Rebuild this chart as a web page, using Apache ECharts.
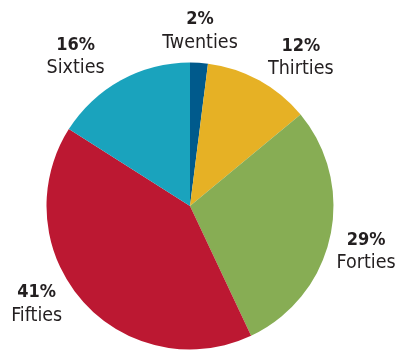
<!DOCTYPE html>
<html>
<head>
<meta charset="utf-8">
<style>
  html, body { margin: 0; padding: 0; background: #ffffff; }
  #chart { width: 398px; height: 350px; }
</style>
<script src="https://cdn.jsdelivr.net/npm/echarts@6/dist/echarts.min.js"></script>
</head>
<body>
<div id="chart"></div>
<script>
// Age groups and their share (percent)
const categories = ['Twenties', 'Thirties', 'Forties', 'Fifties', 'Sixties'];
const shares = [2, 12, 29, 41, 16];
const colors = ['#005a8c', '#e6b125', '#87ad54', '#bc1832', '#1aa3bd'];

// Label placement relative to each slice's middle angle
const labelAngleShift = [-0.3, 8, 2, 8.8, -8.7];   // degrees
const labelDistance = [175, 185, 182, 182, 188];    // px from pie centre

const FONT = '"DejaVu Sans Condensed", "Liberation Sans Narrow", sans-serif';
const CX = 190, CY = 206, R = 143.5;

const total = shares.reduce((a, b) => a + b, 0);
const midAngles = [];
let acc = 0;
shares.forEach(v => {
  midAngles.push((acc + v / 2) / total * 360);
  acc += v;
});

const chart = echarts.init(document.getElementById('chart'), null, { renderer: 'canvas' });
chart.setOption({
  animation: false,
  backgroundColor: '#ffffff',
  series: [{
    type: 'pie',
    center: [CX, CY],
    radius: [0, R],
    startAngle: 90,
    clockwise: true,
    avoidLabelOverlap: false,
    emphasis: { disabled: true },
    itemStyle: { borderWidth: 0 },
    label: {
      show: true,
      position: 'outside',
      formatter: p => '{p|' + p.value + '%}\n{n|' + p.name + '}',
      rich: {
        p: { fontFamily: FONT, fontWeight: 'bold', fontSize: 18, lineHeight: 23, color: '#231f20', align: 'center' },
        n: { fontFamily: FONT, fontSize: 19.5, lineHeight: 23, color: '#231f20', align: 'center' }
      }
    },
    labelLine: { show: false },
    labelLayout: params => {
      const i = params.dataIndex;
      const a = (midAngles[i] + labelAngleShift[i]) * Math.PI / 180;
      const d = labelDistance[i];
      return {
        x: CX + d * Math.sin(a),
        y: CY - d * Math.cos(a),
        align: 'center',
        verticalAlign: 'middle'
      };
    },
    data: categories.map((name, i) => ({
      name: name,
      value: shares[i],
      itemStyle: { color: colors[i] }
    }))
  }]
});
</script>
</body>
</html>
